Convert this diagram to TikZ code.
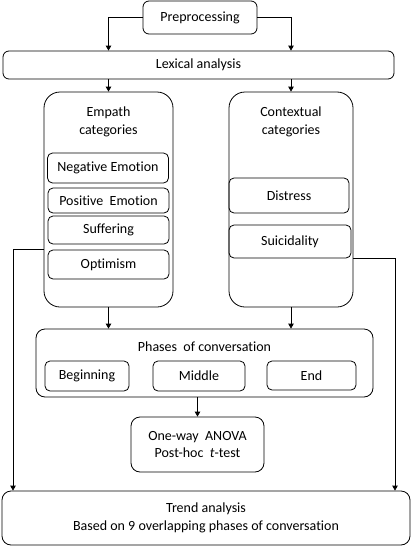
\documentclass[tikz,border=0pt]{standalone}
\usepackage{fontspec}
\setmainfont{Carlito}[Ligatures=NoCommon]
\usetikzlibrary{arrows.meta}

\tikzset{
    box/.style={draw, line width=0.8pt, rounded corners=6pt, inner sep=0pt, align=center},
    catbox/.style={box, rounded corners=16pt},
    itembox/.style={box, rounded corners=5pt},
    arr/.style={line width=0.8pt, -{Triangle[length=5pt,width=5.5pt]}}
}

\begin{document}
\begin{tikzpicture}[x=1pt, y=-1pt, font=\fontsize{14}{17.5}\selectfont]
    \useasboundingbox (0,0) rectangle (411,546);

    % Top: preprocessing and lexical analysis
    \node[box, minimum width=114pt, minimum height=33pt] (pre) at (200,17.5) {Preprocessing};
    \node[box, minimum width=391pt, minimum height=28pt] (lex) at (198.5,65) {Lexical analysis};

    % Two category columns
    \node[catbox, minimum width=129pt, minimum height=215pt] (emp) at (108.5,199.5) {};
    \node[catbox, minimum width=124pt, minimum height=215pt] (ctx) at (291,199.5) {};
    \node[align=center] (empt) at (108.5,122) {Empath\\categories};
    \node[align=center] (ctxt) at (291,122) {Contextual\\categories};

    % Empath items
    \node[itembox, minimum width=121pt, minimum height=30pt] (neg) at (108,168) {Negative Emotion};
    \node[itembox, minimum width=121pt, minimum height=25pt] (pos) at (108.5,200.5) {Positive\ \ Emotion};
    \node[itembox, minimum width=121pt, minimum height=28pt] (suf) at (108.5,230) {Suffering};
    \node[itembox, minimum width=121pt, minimum height=29pt] (opt) at (108.5,264.5) {Optimism};

    % Contextual items
    \node[itembox, minimum width=120pt, minimum height=35pt] (dis) at (289,195.5) {Distress};
    \node[itembox, minimum width=122pt, minimum height=33pt] (sui) at (290,241.5) {Suicidality};

    % Phases of conversation
    \node[box, rounded corners=9pt, minimum width=337pt, minimum height=68pt] (ph) at (204.5,363) {};
    \node (pht) at (204.5,347) {Phases\ \ of conversation};
    \node[itembox, minimum width=84pt, minimum height=30pt] (beg) at (87,376) {Beginning};
    \node[itembox, minimum width=92pt, minimum height=30pt] (mid) at (199,376) {Middle};
    \node[itembox, minimum width=89pt, minimum height=29pt] (fin) at (311.5,375.5) {End};

    % Tests
    \node[box, rounded corners=9pt, minimum width=133pt, minimum height=55pt] (anova) at (197.5,444.5) {One-way\ \ ANOVA\\Post-hoc\ \ \textit{t}-test};

    % Trend analysis
    \node[box, rounded corners=9pt, minimum width=408pt, minimum height=54pt] (trend) at (206,518) {Trend analysis\\Based on 9 overlapping phases of conversation};

    % Side lines
    \coordinate (lft) at (13,0);
    \coordinate (rgt) at (395,0);

    % Arrows
    \draw[arr] (pre.west) -| (emp.north |- lex.north);
    \draw[arr] (pre.east) -| (ctx.north |- lex.north);
    \draw[arr] (emp.north |- lex.south) -- (emp.north);
    \draw[arr] (ctx.north |- lex.south) -- (ctx.north);
    \draw[arr] (emp.west |- opt.north) -| (lft |- trend.north);
    \draw[arr] (ctx.east |- sui.south) -| (rgt |- trend.north);
    \draw[arr] (emp.south) -- (emp.south |- ph.north);
    \draw[arr] (ctx.south) -- (ctx.south |- ph.north);
    \draw[arr] (anova.north |- ph.south) -- (anova.north);
\end{tikzpicture}
\end{document}
